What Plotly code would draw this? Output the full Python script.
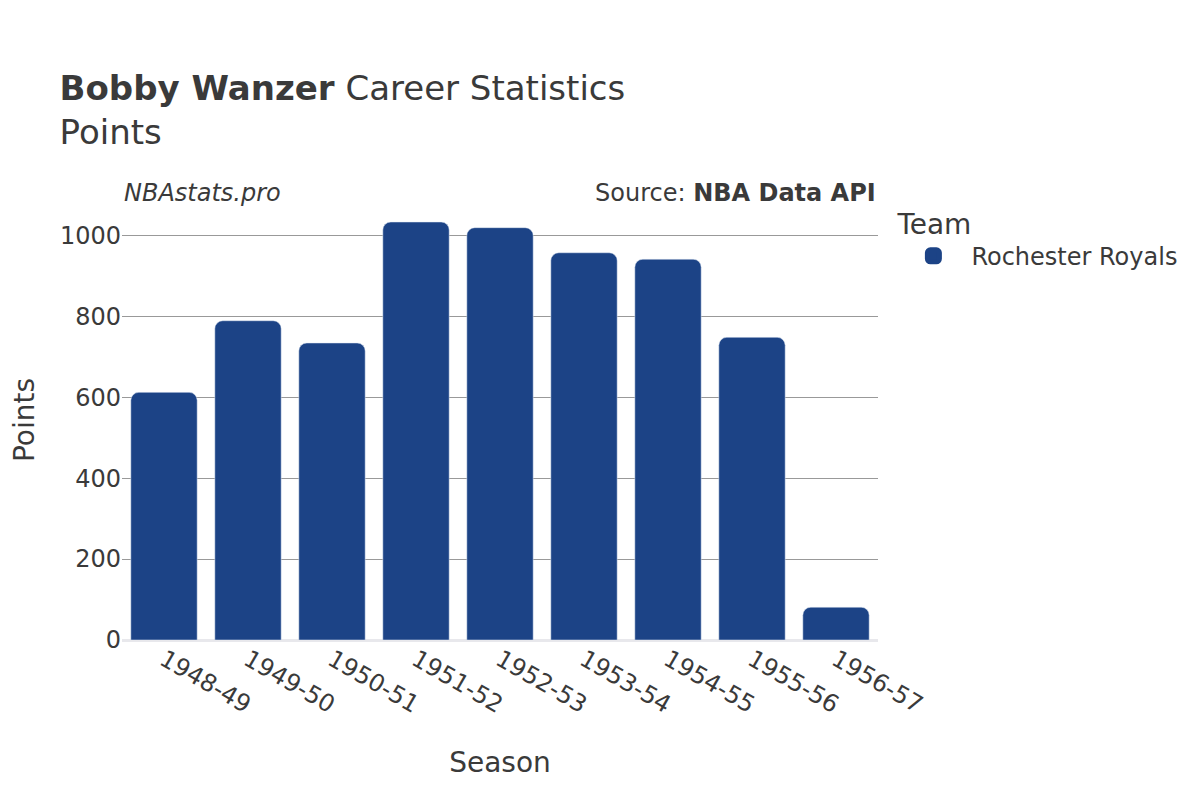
import plotly.graph_objects as go

seasons = ["1948-49", "1949-50", "1950-51", "1951-52", "1952-53",
           "1953-54", "1954-55", "1955-56", "1956-57"]
points = [612, 789, 734, 1033, 1019, 957, 941, 748, 81]
team = "Rochester Royals"
bar_color = "#1c4386"

fig = go.Figure()
fig.add_trace(go.Bar(
    x=seasons,
    y=points,
    name=team,
    marker_color=bar_color,
    showlegend=False,
))
# legend-only entry, thick outline gives the bigger rounded swatch
fig.add_trace(go.Bar(
    x=[seasons[0]],
    y=[None],
    name=team,
    marker=dict(color=bar_color, line=dict(color=bar_color, width=13)),
    showlegend=True,
))

fig.update_layout(
    width=1200,
    height=800,
    font=dict(family="DejaVu Sans", color="#3a3a3a", size=24),
    plot_bgcolor="#ffffff",
    paper_bgcolor="#ffffff",
    title=dict(
        text="<b>Bobby Wanzer</b> Career Statistics<br>Points",
        x=0.043, xanchor="left",
        y=0.885, yanchor="top",
        font=dict(size=34),
    ),
    margin=dict(l=114, r=330, t=192, b=168),
    barmode="overlay",
    barcornerradius=8,
    bargap=0.21,
    legend=dict(
        title=dict(text="Team", font=dict(size=28)),
        x=1.023, xanchor="left",
        y=1.006, yanchor="top",
        font=dict(size=24),
        itemwidth=66,
    ),
    annotations=[
        dict(text="<i>NBAstats.pro</i>", xref="paper", yref="paper",
             x=0.0, y=0.98, xanchor="left", yanchor="bottom",
             showarrow=False, font=dict(size=24)),
        dict(text="Source: <b>NBA Data API</b>", xref="paper", yref="paper",
             x=1.0, y=0.98, xanchor="right", yanchor="bottom",
             showarrow=False, font=dict(size=24)),
    ],
)

fig.update_xaxes(
    title=dict(text="Season", font=dict(size=28), standoff=34),
    tickangle=30,
    tickfont=dict(size=24),
    automargin=False,
)

fig.update_yaxes(
    title=dict(text="Points", font=dict(size=28), standoff=80),
    showgrid=True,
    gridcolor="#999999",
    gridwidth=1,
    zeroline=True,
    zerolinecolor="#e8e8ec",
    zerolinewidth=3,
    tickfont=dict(size=24),
    tickvals=[0, 200, 400, 600, 800, 1000],
    automargin=False,
)

fig.write_html("out.html")
